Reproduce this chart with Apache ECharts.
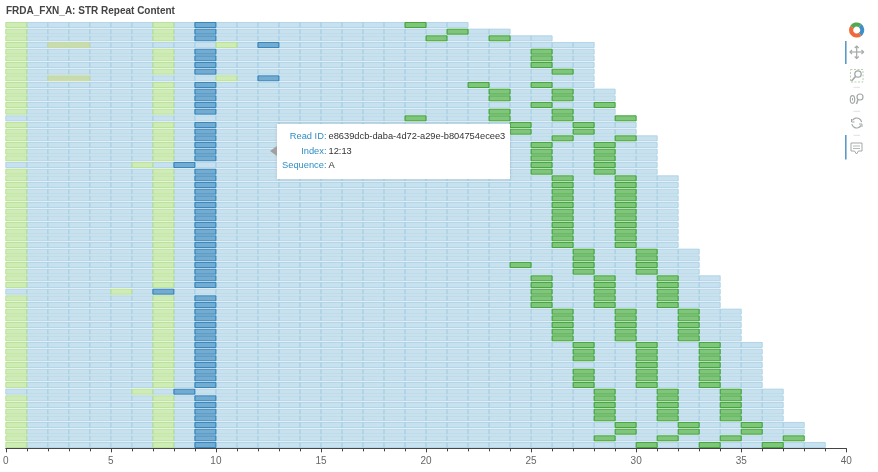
<!DOCTYPE html>
<html><head><meta charset="utf-8">
<style>html,body{margin:0;padding:0;background:#fff}#c{width:878px;height:472px}</style>
<script src="https://cdn.jsdelivr.net/npm/echarts@6/dist/echarts.min.js"></script>
</head><body><div id="c"></div>
<script>
const titleText = 'FRDA_FXN_A: STR Repeat Content';
const readLengths = [22,24,26,28,28,28,28,28,28,28,29,29,29,29,30,30,30,31,31,31,31,31,31,
  32,32,32,32,32,32,32,32,32,32,32,33,33,33,33,34,34,34,34,34,35,35,35,35,35,
  36,36,36,36,36,36,36,37,37,37,37,37,38,38,38,39];
const gCells = [[19],[21],[20,23],[],[25],[25],[25],[26],[],[22,25],[23,26],[23,26],[25,28],[23,26],
  [19,23,26,29],[24,27],[24,27],[26,29],[25,28],[25,28],[25,28],[25,28],[25,28],
  [26,29],[26,29],[26,29],[26,29],[26,29],[26,29],[26,29],[26,29],[26,29],[26,29],[26,29],
  [27,30],[27,30],[24,27,30],[27,30],
  [25,28,31],[25,28,31],[25,28,31],[25,28,31],[25,28,31],
  [26,29,32],[26,29,32],[26,29,32],[26,29,32],[26,29,32],
  [27,30,33],[27,30,33],[27,30,33],[30,33],[27,30,33],[27,30,33],[27,30,33],
  [28,31,34],[28,31,34],[28,31,34],[28,31,34],[28,31,34],
  [29,32,35],[29,32,35],[28,31,34,37],[30,33,36]];
const usualTCells = [0,7];
const usualCCells = [9];
const specialTCells = {3:[0,10],8:[0,10],14:[],21:[6],40:[5],55:[6]};
const specialCCells = {3:[12],8:[12],14:[],21:[8],40:[7],55:[8]};
const mixedSpans = [[3,2,4],[8,2,4]];
const xTicks = {min:0,max:40,step:5};
const tipLabels = ['Read ID:','Index:','Sequence:'];
const tipValues = ['e8639dcb-daba-4d72-a29e-b804754ecee3','12:13','A'];

const palette = [
  ['rgba(166,206,227,.62)','rgba(166,206,227,.8)'],
  ['rgba(178,223,138,.62)','rgba(178,223,138,.85)'],
  ['rgba(31,120,180,.62)','rgba(31,120,180,.85)'],
  ['rgba(51,160,44,.62)','rgba(51,160,44,.9)'],
  ['rgba(190,214,160,.85)','rgba(190,214,160,.9)']
];
const cells = [];
readLengths.forEach((len,row)=>{
  const t = specialTCells[row] || usualTCells, c = specialCCells[row] || usualCCells, g = gCells[row];
  const span = mixedSpans.find(s=>s[0]===row);
  for(let i=0;i<len;i++){
    if(span && i>=span[1] && i<span[2]) continue;
    const kind = g.includes(i)?3:c.includes(i)?2:t.includes(i)?1:0;
    cells.push([i,row,i+1,kind]);
  }
  if(span) cells.push([span[1],row,span[2],4]);
});
cells.sort((a,b)=>a[3]-b[3]);

const grey='#a3a9a8';
const icon=[];
const seg=(a,b,c)=>icon.push({type:'sector',z:100,shape:{cx:856.7,cy:30,r:7.6,r0:3.4,startAngle:a,endAngle:b},style:{fill:c}});
seg(-2.6,-0.9,'#52a84c');seg(-0.9,0.9,'#3f8fc4');seg(0.9,3.7,'#f0693c');
const line=(pts,c,w,dash)=>icon.push({type:'polyline',z:100,shape:{points:pts},style:{stroke:c||grey,lineWidth:w||1.2,fill:null,lineDash:dash}});
const blueBar=(y1,y2)=>icon.push({type:'rect',z:100,shape:{x:845,y:y1,width:1.6,height:y2-y1},style:{fill:'#5b9ac6'}});
blueBar(41,64);blueBar(135,159.5);
// pan
line([[850,52],[863.5,52]]);line([[856.7,46],[856.7,58.5]]);
line([[852,50],[850,52],[852,54]]);line([[861.5,50],[863.5,52],[861.5,54]]);
line([[854.7,48],[856.7,46],[858.7,48]]);line([[854.7,56.5],[856.7,58.5],[858.7,56.5]]);
// box zoom
icon.push({type:'rect',z:100,shape:{x:850.5,y:69.5,width:12.5,height:12.5},style:{fill:null,stroke:'#b9d0b0',lineWidth:1,lineDash:[2,1.5]}});
icon.push({type:'circle',z:100,shape:{cx:858,cy:74,r:3.2},style:{fill:'#fff',stroke:grey,lineWidth:1.3}});
line([[855.5,76.5],[851.5,81]],grey,1.6);
// wheel zoom
icon.push({type:'ellipse',z:100,shape:{cx:852.5,cy:99.5,rx:2.2,ry:3.8},style:{fill:null,stroke:grey,lineWidth:1.2}});
line([[852.5,98],[852.5,100.5]],grey,1);
icon.push({type:'circle',z:100,shape:{cx:860,cy:97,r:3},style:{fill:null,stroke:grey,lineWidth:1.2}});
line([[858,99.5],[856.5,104]],grey,1.4);
// reset
icon.push({type:'arc',z:100,shape:{cx:856.7,cy:123,r:5,startAngle:-2.6,endAngle:-0.2},style:{fill:null,stroke:grey,lineWidth:1.2}});
icon.push({type:'arc',z:100,shape:{cx:856.7,cy:123,r:5,startAngle:0.5,endAngle:2.9},style:{fill:null,stroke:grey,lineWidth:1.2}});
line([[851.5,119],[851.5,122],[854.5,122]],grey,1);
line([[859,124],[862,124],[862,127]],grey,1);
// hover
icon.push({type:'polygon',z:100,shape:{points:[[851,143],[862,143],[862,151],[858.5,151],[856.5,154],[854.5,151],[851,151]]},style:{fill:'#fff',stroke:grey,lineWidth:1}});
line([[853,146],[860,146]],'#b4b9b8',1);line([[853,148.5],[860,148.5]],'#b4b9b8',1);
// separators
[87.3,111.3,135.3].forEach(y=>line([[853.5,y],[860,y]],'#dfe1e1',1));
// tooltip
icon.push({type:'rect',z:100,shape:{x:277,y:124,width:233,height:55},style:{fill:'#fff',shadowBlur:3,shadowColor:'rgba(120,120,120,.25)'}});
icon.push({type:'polygon',z:101,shape:{points:[[270,151],[277,146],[277,156]]},style:{fill:'#a0a0a0'}});
const rowY=[136.5,151,165.5];
tipLabels.forEach((s,i)=>{
  icon.push({type:'text',z:101,x:326.5,y:rowY[i],style:{text:s,fill:'#2f8ec4',font:'9.3px "Liberation Sans"',textAlign:'right',textVerticalAlign:'middle'}});
  icon.push({type:'text',z:101,x:328.5,y:rowY[i],style:{text:tipValues[i],fill:'#333',font:'9.3px "Liberation Sans"',textAlign:'left',textVerticalAlign:'middle'}});
});

const chart = echarts.init(document.getElementById('c'),null,{renderer:'canvas'});
chart.setOption({
  animation:false,
  backgroundColor:'#fff',
  title:{text:titleText,left:6,top:6.5,padding:0,textStyle:{fontFamily:'"Liberation Sans"',fontSize:10,fontWeight:'bold',color:'#444'}},
  grid:{left:5.3,right:31.7,top:21.67,bottom:23.67},
  xAxis:{type:'value',min:xTicks.min,max:xTicks.max,interval:xTicks.step,
    splitLine:{show:false},
    axisLine:{show:true,onZero:false,lineStyle:{color:'#444',width:1}},
    axisTick:{show:true,length:4,lineStyle:{color:'#444'}},
    minorTick:{show:true,splitNumber:5,length:3,lineStyle:{color:'#444'}},
    axisLabel:{fontFamily:'"Liberation Sans"',fontSize:10,color:'#666',margin:7.5,hideOverlap:false,showMinLabel:true,showMaxLabel:true,alignMinLabel:'center',alignMaxLabel:'center'}},
  yAxis:{type:'value',inverse:true,min:-0.5,max:63.5,show:false},
  series:[{type:'custom',silent:true,clip:false,
    encode:{x:[0,2],y:1},
    data:cells,
    renderItem:(p,api)=>{
      const a=api.coord([api.value(0),api.value(1)]), b=api.coord([api.value(2),api.value(1)]);
      const h=api.size([0,1])[1]*0.76;
      const col=palette[api.value(3)];
      return {type:'rect',shape:{x:a[0],y:a[1]-h/2,width:b[0]-a[0],height:h},style:{fill:col[0],stroke:col[1],lineWidth:1}};
    }}],
  graphic:{elements:icon}
});
</script></body></html>
